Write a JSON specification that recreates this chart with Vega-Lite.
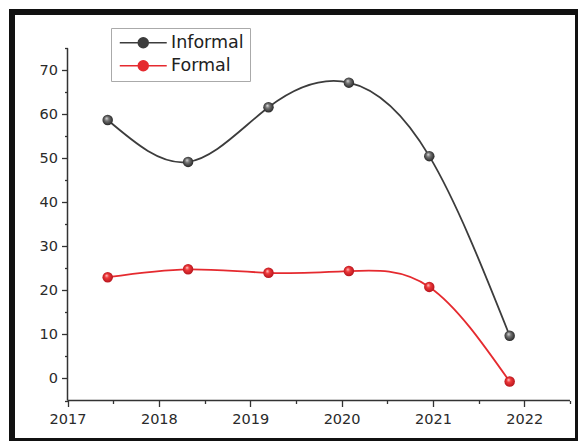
{
  "$schema": "https://vega.github.io/schema/vega-lite/v6.json",
  "width": 566,
  "height": 429,
  "autosize": {"type": "none"},
  "padding": {"left": 12, "top": 12, "right": 0, "bottom": 0},
  "background": "white",
  "config": {
    "view": {"stroke": "#111", "strokeWidth": 6, "fill": "white"},
    "font": "DejaVu Sans",
    "axis": {"domain": false, "grid": false, "labelFont": "DejaVu Sans", "labelFontSize": 14.5, "labelColor": "#2a2a2a", "tickColor": "#333", "tickWidth": 1.3, "title": null}
  },
  "data": {
    "values": [
      {"year": 2017.44, "value": 58.7, "series": "Informal"},
      {"year": 2018.32, "value": 49.2, "series": "Informal"},
      {"year": 2019.2, "value": 61.6, "series": "Informal"},
      {"year": 2020.08, "value": 67.2, "series": "Informal"},
      {"year": 2020.96, "value": 50.5, "series": "Informal"},
      {"year": 2021.84, "value": 9.7, "series": "Informal"},
      {"year": 2017.44, "value": 23.0, "series": "Formal"},
      {"year": 2018.32, "value": 24.8, "series": "Formal"},
      {"year": 2019.2, "value": 24.0, "series": "Formal"},
      {"year": 2020.08, "value": 24.4, "series": "Formal"},
      {"year": 2020.96, "value": 20.8, "series": "Formal"},
      {"year": 2021.84, "value": -0.7, "series": "Formal"}
    ]
  },
  "resolve": {"axis": {"x": "independent", "y": "independent"}},
  "layer": [
    {
      "data": {"values": [{}]},
      "mark": {"type": "rule", "color": "#333", "strokeWidth": 1.5},
      "encoding": {
        "x": {"datum": 2017, "type": "quantitative", "scale": {"domain": [2016.3925, 2022.5878], "nice": false, "zero": false},
              "axis": {"orient": "bottom", "offset": -40.5, "values": [2017.5, 2018.5, 2019.5, 2020.5, 2021.5, 2022.5], "labels": false, "tickSize": 3}},
        "y": {"datum": -5, "type": "quantitative", "scale": {"domain": [-14.199, 83.245], "nice": false, "zero": false},
              "axis": {"orient": "left", "offset": -55.5, "values": [-5, 5, 15, 25, 35, 45, 55, 65, 75], "labels": false, "tickSize": 3}},
        "y2": {"datum": 75}
      }
    },
    {
      "data": {"values": [{}]},
      "mark": {"type": "rule", "color": "#333", "strokeWidth": 1.5},
      "encoding": {
        "x": {"datum": 2017, "type": "quantitative", "scale": {"domain": [2016.3925, 2022.5878], "nice": false, "zero": false},
              "axis": {"orient": "bottom", "offset": -40.5, "values": [2017, 2018, 2019, 2020, 2021, 2022], "format": "d", "tickSize": 6, "labelPadding": 6}},
        "x2": {"datum": 2022.5},
        "y": {"datum": -5, "type": "quantitative", "scale": {"domain": [-14.199, 83.245], "nice": false, "zero": false},
              "axis": {"orient": "left", "offset": -55.5, "values": [0, 10, 20, 30, 40, 50, 60, 70], "tickSize": 6, "labelPadding": 4}}
      }
    },
    {
      "mark": {"type": "line", "interpolate": "natural", "strokeWidth": 1.8},
      "encoding": {
        "x": {"field": "year", "type": "quantitative", "scale": {"domain": [2016.3925, 2022.5878], "nice": false, "zero": false}, "axis": null},
        "y": {"field": "value", "type": "quantitative", "scale": {"domain": [-14.199, 83.245], "nice": false, "zero": false}, "axis": null},
        "color": {
          "field": "series", "type": "nominal",
          "scale": {"domain": ["Informal", "Formal"], "range": ["#3c3c3c", "#e52a2f"]},
          "legend": {
            "orient": "none", "legendX": 99, "legendY": 16, "title": null,
            "symbolType": "M-4.27,0L4.27,0M0.9,0A0.9,0.9,0,1,1,-0.9,0A0.9,0.9,0,1,1,0.9,0Z",
            "symbolSize": 121, "symbolStrokeWidth": 1.6, "symbolOffset": 17.5,
            "labelFont": "DejaVu Sans", "labelFontSize": 17.5, "labelColor": "#222", "labelOffset": 19,
            "padding": 6, "rowPadding": 4, "strokeColor": "#aaa", "fillColor": "white", "cornerRadius": 0,
            "encode": {"symbols": {"update": {"fill": {"scale": "color", "field": "value"}, "stroke": {"scale": "color", "field": "value"}, "opacity": {"value": 1}}}}
          }
        }
      }
    },
    {
      "transform": [{"filter": "datum.series === 'Informal'"}],
      "mark": {"type": "point", "filled": true, "size": 110, "opacity": 1,
               "fill": {"gradient": "radial", "x1": 0.38, "y1": 0.32, "r1": 0, "x2": 0.5, "y2": 0.5, "r2": 0.55,
                        "stops": [{"offset": 0, "color": "#e6e6e6"}, {"offset": 0.35, "color": "#777777"}, {"offset": 1, "color": "#1e1e1e"}]}},
      "encoding": {
        "x": {"field": "year", "type": "quantitative", "scale": {"domain": [2016.3925, 2022.5878], "nice": false, "zero": false}, "axis": null},
        "y": {"field": "value", "type": "quantitative", "scale": {"domain": [-14.199, 83.245], "nice": false, "zero": false}, "axis": null}
      }
    },
    {
      "transform": [{"filter": "datum.series === 'Formal'"}],
      "mark": {"type": "point", "filled": true, "size": 110, "opacity": 1,
               "fill": {"gradient": "radial", "x1": 0.38, "y1": 0.32, "r1": 0, "x2": 0.5, "y2": 0.5, "r2": 0.55,
                        "stops": [{"offset": 0, "color": "#ffd6d6"}, {"offset": 0.35, "color": "#f03a3a"}, {"offset": 1, "color": "#b0101a"}]}},
      "encoding": {
        "x": {"field": "year", "type": "quantitative", "scale": {"domain": [2016.3925, 2022.5878], "nice": false, "zero": false}, "axis": null},
        "y": {"field": "value", "type": "quantitative", "scale": {"domain": [-14.199, 83.245], "nice": false, "zero": false}, "axis": null}
      }
    }
  ]
}
